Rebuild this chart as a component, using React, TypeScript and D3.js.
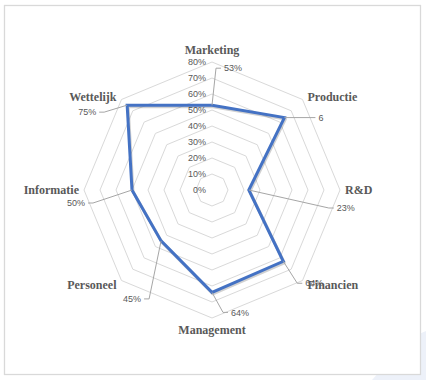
import React from "react";
import * as d3 from "d3";

const categories = ["Marketing", "Productie", "R&D", "Financien", "Management", "Personeel", "Informatie", "Wettelijk"];
const values = [0.53, 0.64, 0.23, 0.63, 0.64, 0.45, 0.5, 0.75];
const valueLabels = ["53%", "6", "23%", "64%", "64%", "45%", "50%", "75%"];
const ticks = [0, 0.1, 0.2, 0.3, 0.4, 0.5, 0.6, 0.7, 0.8];

// layout: leader end offsets (px) from each data point
const leaderOffsets: [number, number][] = [
  [9, -37], [31, 0], [85, 18], [19, 22], [16, 20], [-17, 58], [-44, 13], [-28, 7],
];

const W = 426, H = 380;
const cx = 212, cy = 190;
const rScale = d3.scaleLinear().domain([0, 0.8]).range([0, 128]);
const aScale = d3.scaleLinear().domain([0, categories.length]).range([0, 2 * Math.PI]);

const pt = (i: number, v: number): [number, number] => {
  const a = aScale(i);
  return [cx + rScale(v) * Math.sin(a), cy - rScale(v) * Math.cos(a)];
};

export default function App() {
  const ring = (v: number) =>
    d3.line().curve(d3.curveLinearClosed)(categories.map((_, i) => pt(i, v))) as string;
  const series = d3.line().curve(d3.curveLinearClosed)(values.map((v, i) => pt(i, v))) as string;
  const grey = "#595959";
  return (
    <svg width={W} height={H} style={{ position: "absolute", left: 0, top: 0 }}>
      <rect x={0} y={0} width={W} height={H} fill="#fff" />
      <polygon points="410,338 426,331 426,380 372,380" fill="#edf1f9" />
      <rect x={4.5} y={5.5} width={416} height={369} fill="#fff" stroke="#d9d9d9" strokeWidth={1.3} />
      {ticks.slice(1).map((t) => (
        <path key={t} d={ring(t)} fill="none" stroke="#d9d9d9" strokeWidth={1} />
      ))}
      {ticks.map((t) => (
        <text key={"t" + t} x={cx - 6} y={cy - rScale(t)} dy="0.35em" textAnchor="end"
          fontFamily="'Liberation Sans', Arial, sans-serif" fontSize={9} fill={grey}>
          {d3.format(".0%")(t)}
        </text>
      ))}
      <path d={series} fill="none" stroke="rgba(0,0,0,0.18)" strokeWidth={3} transform="translate(1,1.5)" strokeLinejoin="round" />
      <path d={series} fill="none" stroke="#4472C4" strokeWidth={3} strokeLinejoin="miter" />
      {values.map((v, i) => {
        const [px, py] = pt(i, v);
        const [dx, dy] = leaderOffsets[i];
        const ex = px + dx, ey = py + dy;
        const right = dx >= 0;
        const elbowX = dx === 0 || dy === 0 ? ex : ex + (right ? -5 : 5);
        return (
          <g key={"l" + i}>
            <polyline points={`${px},${py} ${elbowX},${ey} ${ex},${ey}`} fill="none" stroke="#a6a6a6" strokeWidth={1} />
            <text x={ex + (right ? 3 : -3)} y={ey} dy="0.35em" textAnchor={right ? "start" : "end"}
              fontFamily="'Liberation Sans', Arial, sans-serif" fontSize={9} fill={grey}>
              {valueLabels[i]}
            </text>
          </g>
        );
      })}
      {categories.map((c, i) => {
        const a = aScale(i);
        const [ox, oy] = pt(i, 0.8);
        const s = Math.sin(a), co = Math.cos(a);
        const anchor = Math.abs(s) < 0.01 ? "middle" : s > 0 ? "start" : "end";
        const x = ox + (Math.abs(s) < 0.01 ? 0 : s > 0 ? 5 : -5);
        const y = oy + (Math.abs(co) > 0.99 ? (co > 0 ? -12 : 12) : co > 0.1 ? -3 : co < -0.1 ? 4 : 0);
        return (
          <text key={c} x={x} y={y} dy="0.35em" textAnchor={anchor}
            fontFamily="'Liberation Serif', 'Times New Roman', serif" fontWeight="bold" fontSize={12} fill={grey}>
            {c}
          </text>
        );
      })}
    </svg>
  );
}
